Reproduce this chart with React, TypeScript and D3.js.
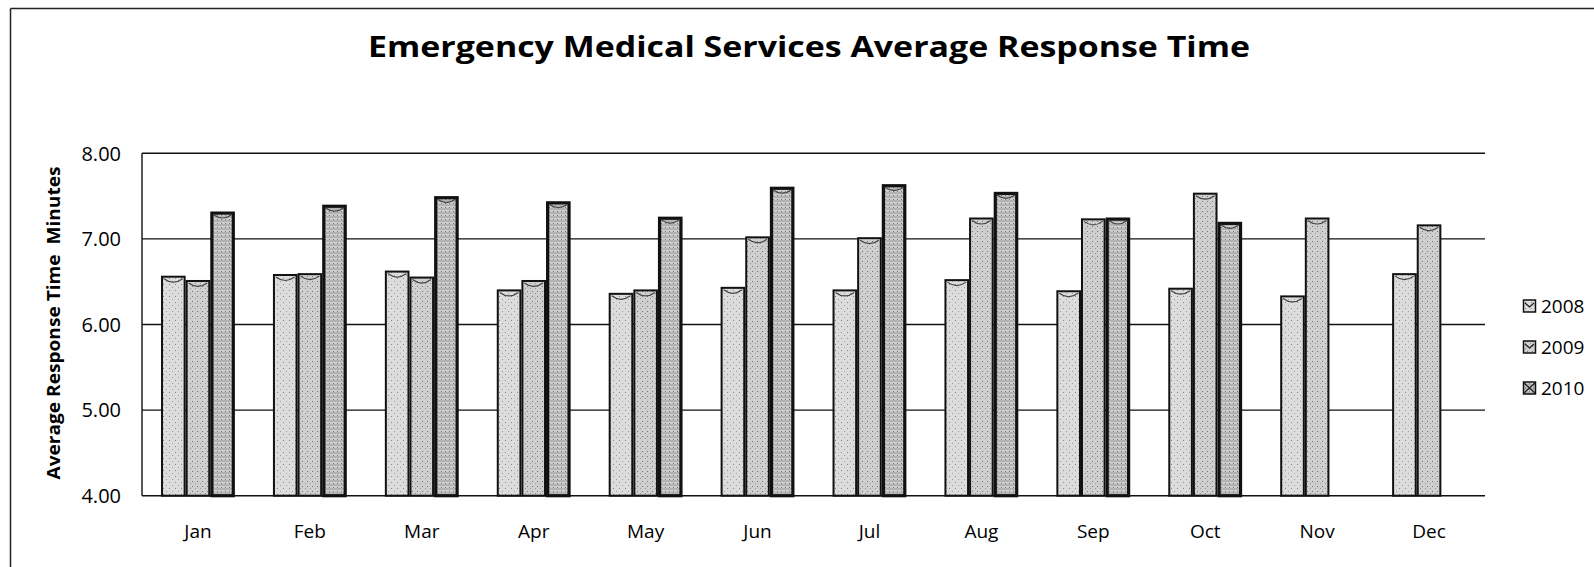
import * as d3 from "d3";

const months = ["Jan", "Feb", "Mar", "Apr", "May", "Jun", "Jul", "Aug", "Sep", "Oct", "Nov", "Dec"];
const seriesNames = ["2008", "2009", "2010"];
const v2008 = [6.57, 6.59, 6.63, 6.41, 6.37, 6.44, 6.41, 6.53, 6.4, 6.43, 6.34, 6.6];
const v2009 = [6.52, 6.6, 6.56, 6.52, 6.41, 7.03, 7.02, 7.25, 7.24, 7.54, 7.25, 7.17];
const v2010 = [7.32, 7.4, 7.5, 7.44, 7.26, 7.61, 7.64, 7.55, 7.25, 7.2, null, null];
const yTicks = [4, 5, 6, 7, 8];

const W = 1594;
const H = 567;
const font = "'Open Sans', 'DejaVu Sans', sans-serif";

export default function App() {
  const x0 = d3.scaleBand<string>().domain(months).range([142, 1485]);
  const bw = x0.bandwidth();
  const gw = bw * 0.66;
  const x1 = d3
    .scaleBand<string>()
    .domain(seriesNames)
    .range([(bw - gw) / 2, (bw + gw) / 2]);
  const y = d3.scaleLinear().domain([4, 8]).range([495.7, 153.3]);

  const values = [v2008, v2009, v2010];
  const fills = ["url(#p2008)", "url(#p2009)", "url(#p2010)"];
  const strokeW = [2, 2, 3.2];

  // flatten to bars, skipping missing months
  const bars = months.flatMap((m, i) =>
    seriesNames
      .map((s, k) => ({ m, s, k, v: values[k][i] }))
      .filter((b) => b.v != null)
  );

  return (
    <div style={{ position: "absolute", left: 0, top: 0 }}>
      <svg width={W} height={H} style={{ display: "block", background: "#fff" }}>
        <defs>
          <pattern id="p2008" width="6" height="6" patternUnits="userSpaceOnUse">
            <rect width="6" height="6" fill="#dcdcdc" />
            <rect x="1" y="2" width="1" height="1" fill="#8a8a8a" />
            <rect x="4" y="5" width="1" height="1" fill="#a0a0a0" />
          </pattern>
          <pattern id="p2009" width="5" height="5" patternUnits="userSpaceOnUse">
            <rect width="5" height="5" fill="#cfcfcf" />
            <rect x="2" y="1" width="1" height="1" fill="#777" />
            <rect x="0" y="3" width="1" height="1" fill="#959595" />
          </pattern>
          <pattern id="p2010" width="4" height="4" patternUnits="userSpaceOnUse">
            <rect width="4" height="4" fill="#cdcdcd" />
            <rect y="0" width="4" height="2" fill="#b2b2b2" />
            <rect x="1" y="3" width="1" height="1" fill="#777" />
          </pattern>
        </defs>

        {/* outer chart frame */}
        <line x1={10.5} x2={W} y1={8.5} y2={8.5} stroke="#222" strokeWidth={1.5} />
        <line x1={10.5} x2={10.5} y1={8.5} y2={H} stroke="#222" strokeWidth={1.5} />

        <text
          x={809}
          y={57}
          textAnchor="middle"
          fontFamily={font}
          fontWeight="bold"
          fontSize={28}
          textLength={882}
          lengthAdjust="spacingAndGlyphs"
          fill="#000"
        >
          Emergency Medical Services Average Response Time
        </text>

        {/* gridlines */}
        {yTicks.map((t) => (
          <line key={t} x1={142} x2={1485} y1={y(t)} y2={y(t)} stroke="#111" strokeWidth={1.4} />
        ))}
        <line x1={142} x2={142} y1={y(8)} y2={y(4)} stroke="#111" strokeWidth={1.4} />

        {yTicks.map((t) => (
          <text
            key={t}
            x={121}
            y={y(t)}
            dy="0.36em"
            textAnchor="end"
            fontFamily={font}
            fontSize={20}
            fill="#000"
          >
            {t.toFixed(2)}
          </text>
        ))}

        <text
          transform={`translate(60,${323}) rotate(-90)`}
          textAnchor="middle"
          fontFamily={font}
          fontWeight="bold"
          fontSize={18}
          textLength={313}
          lengthAdjust="spacingAndGlyphs"
          fill="#000"
          style={{ whiteSpace: "pre" }}
        >
          {"Average Response Time  Minutes"}
        </text>

        {/* bars */}
        {bars.map((b) => {
          const bx = (x0(b.m) ?? 0) + (x1(b.s) ?? 0);
          const w = x1.bandwidth();
          const top = y(b.v as number);
          const sw = strokeW[b.k];
          return (
            <g key={b.m + b.s}>
              <rect
                x={bx + sw / 2}
                y={top + sw / 2}
                width={w - sw}
                height={y(4) - top - sw / 2}
                fill={fills[b.k]}
                stroke="#111"
                strokeWidth={sw}
              />
              <path
                d={`M${bx + 3},${top + 3} Q${bx + w / 2},${top + 10} ${bx + w - 3},${top + 3}`}
                fill="none"
                stroke="#444"
                strokeWidth={1.2}
              />
            </g>
          );
        })}

        {months.map((m) => (
          <text
            key={m}
            x={(x0(m) ?? 0) + bw / 2}
            y={538}
            textAnchor="middle"
            fontFamily={font}
            fontSize={19}
            fill="#000"
          >
            {m}
          </text>
        ))}

        {/* legend */}
        {seriesNames.map((s, k) => {
          const ly = 306 + k * 41;
          return (
            <g key={s}>
              <rect x={1523.5} y={ly - 6} width={12} height={12} fill={fills[k]} stroke="#111" strokeWidth={1.5} />
              <path
                d={
                  k === 2
                    ? `M1524,${ly - 5} L1535,${ly + 5} M1535,${ly - 5} L1524,${ly + 5}`
                    : `M1525,${ly - 3} L1529.5,${ly + 1} L1534,${ly - 3}`
                }
                fill="none"
                stroke="#222"
                strokeWidth={1.3}
              />
              <text x={1541} y={ly + 7} fontFamily={font} fontSize={19} fill="#000">
                {s}
              </text>
            </g>
          );
        })}
      </svg>
    </div>
  );
}
